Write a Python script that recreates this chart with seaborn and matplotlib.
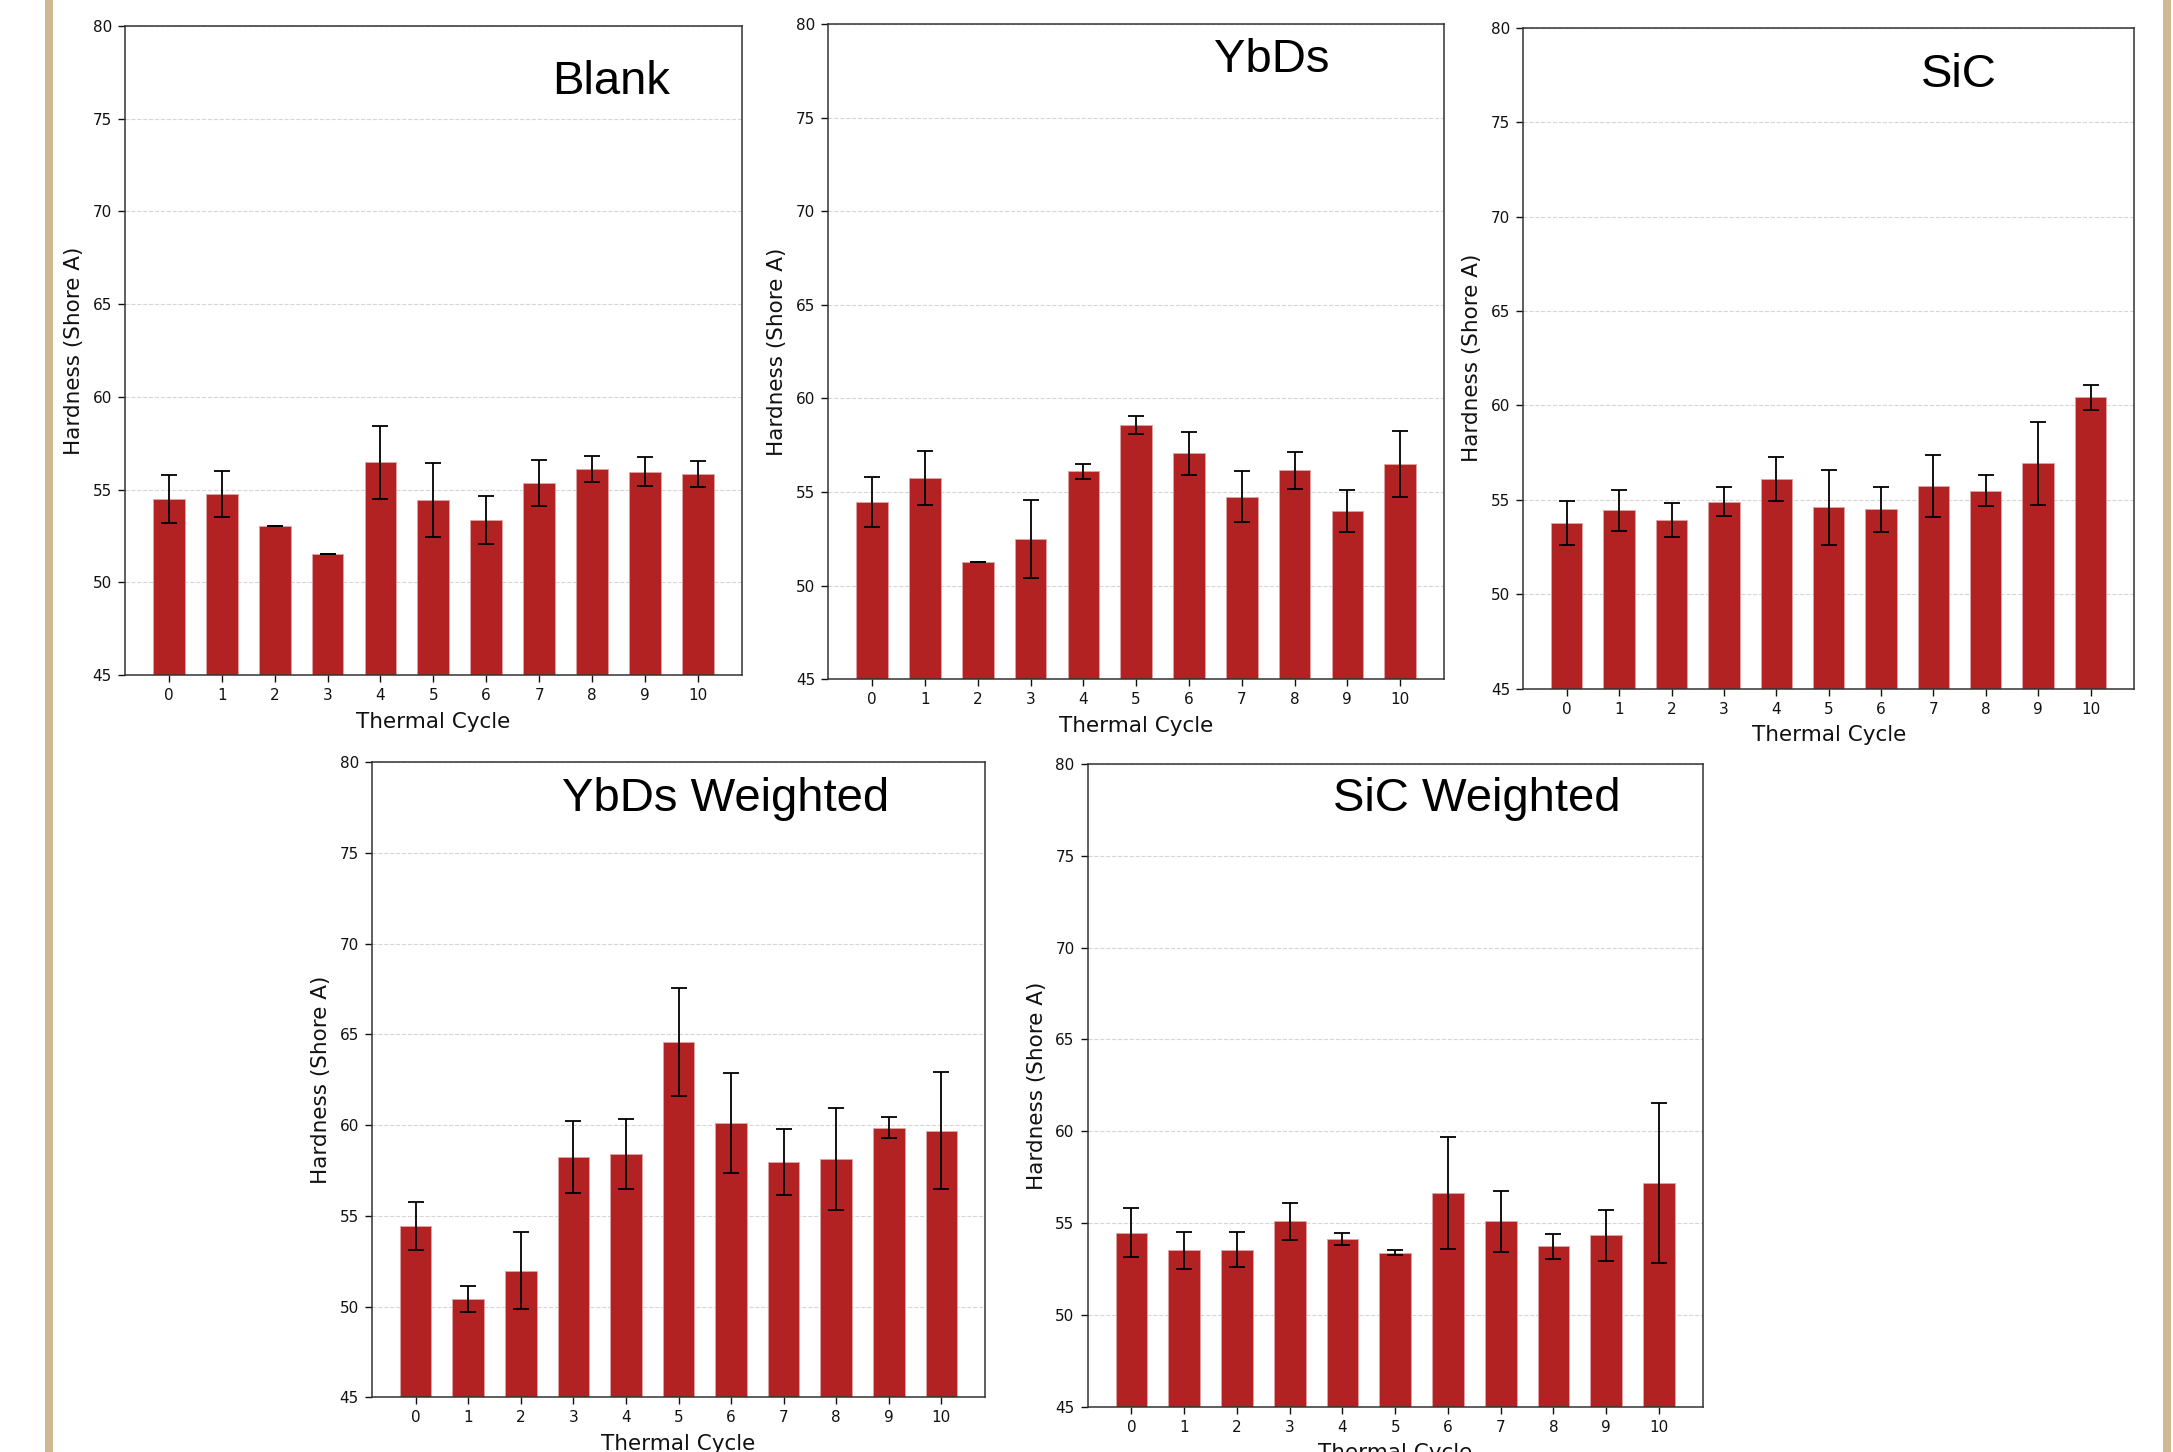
import matplotlib
matplotlib.use("Agg")
import matplotlib.pyplot as plt
from matplotlib.patches import Rectangle
import seaborn as sns
import pandas as pd

# Thermal cycle index shared by every sample set
cycles = [0, 1, 2, 3, 4, 5, 6, 7, 8, 9, 10]

# Mean Shore A hardness and standard deviation per cycle
blank_mean = [54.5, 54.75, 53.02, 51.5, 56.46, 54.45, 53.35, 55.36, 56.1, 55.95, 55.85]
blank_std = [1.3, 1.25, 0.0, 0.0, 1.95, 2.0, 1.3, 1.25, 0.69, 0.78, 0.7]

ybds_mean = [54.48, 55.74, 51.26, 52.49, 56.12, 58.59, 57.08, 54.76, 56.17, 54.0, 56.5]
ybds_std = [1.33, 1.44, 0.0, 2.1, 0.4, 0.49, 1.15, 1.37, 0.98, 1.13, 1.77]

sic_mean = [53.77, 54.44, 53.93, 54.9, 56.11, 54.6, 54.49, 55.72, 55.49, 56.93, 60.42]
sic_std = [1.18, 1.1, 0.92, 0.76, 1.17, 1.97, 1.17, 1.65, 0.84, 2.21, 0.66]

ybds_w_mean = [54.45, 50.42, 51.97, 58.25, 58.4, 64.57, 60.12, 57.97, 58.12, 59.87, 59.7]
ybds_w_std = [1.33, 0.73, 2.12, 1.98, 1.94, 2.98, 2.75, 1.84, 2.8, 0.56, 3.22]

sic_w_mean = [54.48, 53.51, 53.56, 55.1, 54.11, 53.39, 56.66, 55.1, 53.74, 54.33, 57.2]
sic_w_std = [1.33, 0.99, 0.97, 1.02, 0.33, 0.15, 3.05, 1.65, 0.67, 1.4, 4.35]

titles = ["Blank", "YbDs", "SiC", "YbDs Weighted", "SiC Weighted"]
means = [blank_mean, ybds_mean, sic_mean, ybds_w_mean, sic_w_mean]
stds = [blank_std, ybds_std, sic_std, ybds_w_std, sic_w_std]

W, H = 2173, 1452
# Axes boxes in pixels: (left, top, right, bottom)
boxes = [
    (125, 26, 741.7, 675),
    (828.3, 24, 1444, 679.3),
    (1523.3, 27.7, 2134, 688.7),
    (372, 762.3, 985, 1397.3),
    (1087.7, 764, 1702.7, 1406.7),
]
# Title anchor (x, baseline y) in axes fraction
title_pos = [(0.788, 0.895), (0.72, 0.926), (0.713, 0.91), (0.576, 0.923), (0.632, 0.927)]

sns.set_style("ticks")
plt.rcParams.update({
    "font.family": ["DejaVu Sans"],
    "axes.edgecolor": "#333333",
    "axes.linewidth": 1.1,
    "xtick.color": "#111111",
    "ytick.color": "#111111",
    "xtick.major.size": 5,
    "ytick.major.size": 5,
    "xtick.major.width": 1.0,
    "ytick.major.width": 1.0,
    "xtick.major.pad": 4.5,
    "ytick.major.pad": 4.5,
    "xtick.labelsize": 11,
    "ytick.labelsize": 11,
    "axes.labelsize": 15.5,
    "axes.labelpad": 6,
    "text.color": "#111111",
    "axes.labelcolor": "#111111",
})

fig = plt.figure(figsize=(W / 100, H / 100), dpi=100)
fig.patch.set_facecolor("white")

# Gold side rules of the panel
gold = "#CFB991"
fig.patches.append(Rectangle((45 / W, 0), 8 / W, 1, transform=fig.transFigure,
                             facecolor=gold, edgecolor="none", zorder=0))
fig.patches.append(Rectangle((2163 / W, 0), 8 / W, 1, transform=fig.transFigure,
                             facecolor=gold, edgecolor="none", zorder=0))

for title, m, s, box, tp in zip(titles, means, stds, boxes, title_pos):
    l, t, r, b = box
    ax = fig.add_axes([l / W, 1 - b / H, (r - l) / W, (b - t) / H])
    df = pd.DataFrame({"cycle": cycles, "hardness": m})
    sns.barplot(data=df, x="cycle", y="hardness", ax=ax, color="#B22222",
                saturation=1, width=0.6, errorbar=None,
                edgecolor="#E0A3A3", linewidth=0.6, zorder=2)
    ax.errorbar(range(len(cycles)), m, yerr=s, fmt="none", ecolor="black",
                elinewidth=1.3, capsize=5.5, capthick=1.3, zorder=3)
    ax.set_ylim(45, 80)
    ax.set_yticks([45, 50, 55, 60, 65, 70, 75, 80])
    ax.set_xlim(-0.83, 10.83)
    ax.set_xlabel("Thermal Cycle")
    ax.set_ylabel("Hardness (Shore A)")
    ax.yaxis.grid(True, linestyle="--", color="#cccccc", alpha=0.8, linewidth=0.8)
    ax.set_axisbelow(True)
    for sp in ax.spines.values():
        sp.set_visible(True)
    ax.text(tp[0], tp[1], title, transform=ax.transAxes, ha="center",
            va="baseline", fontsize=34, family=["Liberation Sans"], color="black")

fig.savefig("out.png", dpi=100, facecolor="white")
